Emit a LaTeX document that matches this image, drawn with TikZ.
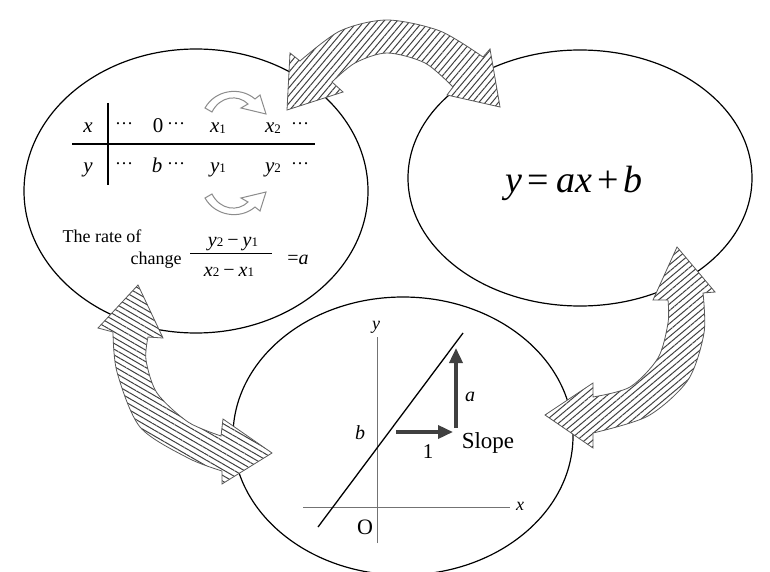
\documentclass[tikz,border=0pt]{standalone}
\usepackage{fontspec}
\setmainfont{Liberation Serif}
\usetikzlibrary{arrows.meta,patterns.meta,shapes.geometric}
\newcommand\sbs[1]{\raisebox{-0.5pt}{\fontsize{13}{13}\selectfont #1}}
\newcommand\tdots{\raisebox{8pt}{\fontsize{18}{18}\selectfont …}}
\begin{document}
\begin{tikzpicture}[x=1pt,y=-1pt,font=\fontsize{18}{20}\selectfont]
\tikzset{
  oval/.style={ellipse, draw=black, line width=1.2pt, inner sep=0pt, minimum width=#1},
  txt/.style={inner sep=0pt, anchor=base},
  tabtxt/.style={txt, font=\fontsize{21}{22}\selectfont},
  bigarrow/.style={preaction={fill=white}, draw=black!65, line width=0.8pt,
     pattern={Lines[angle=#1,distance=5pt,line width=1pt]}, pattern color=black!75},
  smallarrow/.style={draw=black!45, line width=1pt, fill=white},
  axis/.style={draw=black!55, line width=0.9pt},
  thickarrow/.style={draw=black!75, line width=3.5pt, -{Triangle[length=15pt,width=13pt]}}
}
\useasboundingbox (0,0) rectangle (770,572);
\fill[white] (0,0) rectangle (770,572);

% ellipses
\node[oval=344pt, minimum height=284pt] (tbl) at (196,191) {};
\node[oval=344pt, minimum height=256pt] (eqn) at (580,178) {};
\node[oval=340pt, minimum height=278pt] (graph) at (403,436) {};

% big hatched double arrows
\path[bigarrow=50] (287,110) -- (290,53) -- (300,61)
  -- plot[smooth] coordinates {(300,61) (340,31) (387,20) (440,31) (483,57)}
  -- (490,49) -- (500,107) -- (447,95) -- (453,87)
  -- plot[smooth] coordinates {(453,87) (425,63) (387,53) (355,63) (332,82)}
  -- (343,92) -- cycle;
\path[bigarrow=-30] (138,285) -- (163,338) -- (148,337)
  -- plot[smooth] coordinates {(148,337) (146,360) (157,393) (188,422) (221,436)}
  -- (223,419) -- (272,453) -- (222,484) -- (222,471)
  -- plot[smooth] coordinates {(222,471) (188,458) (140,427) (117,372) (113,332)}
  -- (98,328) -- cycle;
\path[bigarrow=40] (677,247) -- (715,292) -- (703,293)
  -- plot[smooth] coordinates {(703,293) (704,333) (688,380) (648,416) (593,433)}
  -- (593,448) -- (545,415) -- (593,383) -- (593,397)
  -- plot[smooth] coordinates {(593,397) (630,387) (658,358) (668,323) (668,300)}
  -- (653,300) -- cycle;

% table
\draw[line width=1.8pt] (72,144) -- (315,144);
\draw[line width=1.8pt] (108,103) -- (108,185);
\node[tabtxt] (hx) at (88,133) {\textit{x}};
\node[tabtxt] (d1) at (124,133) {\tdots};
\node[tabtxt] (z0) at (158,133) {0};
\node[tabtxt] (d2) at (176,133) {\tdots};
\node[tabtxt] (x1) at (218,133) {\textit{x}\sbs{1}};
\node[tabtxt] (x2) at (273,133) {\textit{x}\sbs{2}};
\node[tabtxt] (d3) at (300,133) {\tdots};
\node[tabtxt] (hy) at (88,172) {\textit{y}};
\node[tabtxt] (e1) at (124,172) {\tdots};
\node[tabtxt] (bb) at (157,172) {\textit{b}};
\node[tabtxt] (e2) at (176,172) {\tdots};
\node[tabtxt] (y1) at (218,172) {\textit{y}\sbs{1}};
\node[tabtxt] (y2) at (273,172) {\textit{y}\sbs{2}};
\node[tabtxt] (e3) at (300,172) {\tdots};

% small curved arrows
\path[smallarrow] (205,108) .. controls (215,90) and (240,86) .. (255,99)
  -- (260,95) -- (266,114) -- (241,108) -- (248,104)
  .. controls (238,94) and (220,96) .. (212,112) -- cycle;
\path[smallarrow] (205,198) .. controls (215,216) and (240,220) .. (255,207)
  -- (260,211) -- (266,192) -- (241,198) -- (248,202)
  .. controls (238,212) and (220,210) .. (212,194) -- cycle;

% rate of change
\node[txt] (rate) at (102,242) {The rate of};
\node[txt] (chg) at (156,264) {change};
\node[txt, font=\fontsize{20}{22}\selectfont] (num) at (233,246) {\textit{y}\sbs{2}\kern4pt−\kern4pt\textit{y}\sbs{1}};
\draw[line width=0.9pt] (190,253) -- (272,253);
\node[txt, font=\fontsize{20}{22}\selectfont] (den) at (229,276) {\textit{x}\sbs{2}\kern4pt−\kern4pt\textit{x}\sbs{1}};
\node[txt, font=\fontsize{20}{22}\selectfont] (eqa) at (298,264) {=\textit{a}};

% equation
\node[txt, font=\fontsize{38}{40}\selectfont] (yab) at (574,192)
  {\textit{y}\kern5pt=\kern8pt\textit{ax}\kern5pt+\kern5pt\textit{b}};

% graph
\coordinate (ya0) at (377,543); \coordinate (ya1) at (377,337);
\coordinate (xa0) at (303,507); \coordinate (xa1) at (510,507);
\draw[axis] (ya0) -- (ya1);
\draw[axis] (xa0) -- (xa1);
\coordinate (l0) at (318,527); \coordinate (l1) at (463,333);
\draw[line width=1.3pt] (l0) -- (l1);
\coordinate (h0) at (396,432); \coordinate (h1) at (453,432);
\coordinate (v0) at (456,428); \coordinate (v1) at (456,348);
\draw[thickarrow] (h0) -- (h1);
\draw[thickarrow] (v0) -- (v1);
\node (ylab) at (376,327) {\textit{y}};
\node (xlab) at (520,506) {\textit{x}};
\node[font=\fontsize{22}{24}\selectfont] (orig) at (365,527) {O};
\node[font=\fontsize{20}{22}\selectfont] (blab) at (360,433) {\textit{b}};
\node[font=\fontsize{20}{22}\selectfont] (alab) at (470,397) {\textit{a}};
\node[font=\fontsize{21}{22}\selectfont] (one) at (428,452) {1};
\node[font=\fontsize{23}{25}\selectfont] (slope) at (488,443) {Slope};
\end{tikzpicture}
\end{document}
